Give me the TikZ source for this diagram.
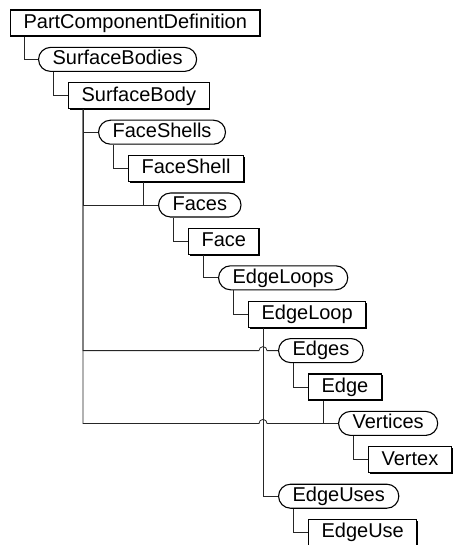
\documentclass[tikz,border=0pt]{standalone}
\usepackage{fontspec}
\setmainfont{Liberation Sans}
\usetikzlibrary{shadows}
\tikzset{
  base/.style={anchor=west, font=\fontsize{20}{24}\selectfont, inner xsep=13pt, inner ysep=0pt,
    minimum height=26pt, text height=14.5pt, text depth=4pt, line width=1.1pt, draw=black, fill=white},
  rbox/.style={base, drop shadow={shadow xshift=1.4pt, shadow yshift=-1.4pt, fill=black, opacity=1}},
  pill/.style={base, rounded corners=12pt, minimum height=24pt, inner xsep=14pt},
  conn/.style={line width=0.8pt, draw=black!85},
}
\begin{document}
\begin{tikzpicture}[x=1pt,y=-1pt]
\useasboundingbox (0,0) rectangle (454,545);
\node[rbox] (pcd) at (10,23) {PartComponentDefinition};
\node[pill] (sbs) at (38,59.4) {SurfaceBodies};
\node[rbox] (sb) at (68,95.8) {SurfaceBody};
\node[pill] (fss) at (98,132.2) {FaceShells};
\node[rbox] (fs) at (128,168.6) {FaceShell};
\node[pill] (faces) at (158,205) {Faces};
\node[rbox] (face) at (188,241.4) {Face};
\node[pill] (els) at (218,277.8) {EdgeLoops};
\node[rbox] (el) at (248,314.2) {EdgeLoop};
\node[pill] (edges) at (278,350.6) {Edges};
\node[rbox] (edge) at (308,387) {Edge};
\node[pill] (verts) at (338,423.4) {Vertices};
\node[rbox] (vert) at (368,459.8) {Vertex};
\node[pill] (eus) at (278,496.2) {EdgeUses};
\node[rbox] (eu) at (308,532.6) {EdgeUse};

\coordinate (elx) at ([xshift=15pt]el.south west);
\coordinate (sbx) at ([xshift=15pt]sb.south west);

\draw[conn] ([xshift=14pt]pcd.south west) |- (sbs.west);
\draw[conn] ([xshift=15pt]sbs.south west) |- (sb.west);
\draw[conn] (sbx) |- (fss.west);
\draw[conn] (sbx) |- (faces.west);
\draw[conn] (sbx) |- ([xshift=-4pt]elx |- edges.west) arc[start angle=180, end angle=0, radius=4pt] -- (edges.west);
\draw[conn] (sbx) |- ([xshift=-4pt]elx |- verts.west) arc[start angle=180, end angle=0, radius=4pt] -- (verts.west);
\draw[conn] ([xshift=15pt]fss.south west) |- (fs.west);
\draw[conn] ([xshift=15pt]fs.south west) |- (faces.west);
\draw[conn] ([xshift=15pt]faces.south west) |- (face.west);
\draw[conn] ([xshift=15pt]face.south west) |- (els.west);
\draw[conn] ([xshift=15pt]els.south west) |- (el.west);
\draw[conn] (elx) |- (eus.west);
\draw[conn] ([xshift=15pt]edges.south west) |- (edge.west);
\draw[conn] ([xshift=15pt]edge.south west) |- (verts.west);
\draw[conn] ([xshift=15pt]verts.south west) |- (vert.west);
\draw[conn] ([xshift=15pt]eus.south west) |- (eu.west);
\end{tikzpicture}
\end{document}
